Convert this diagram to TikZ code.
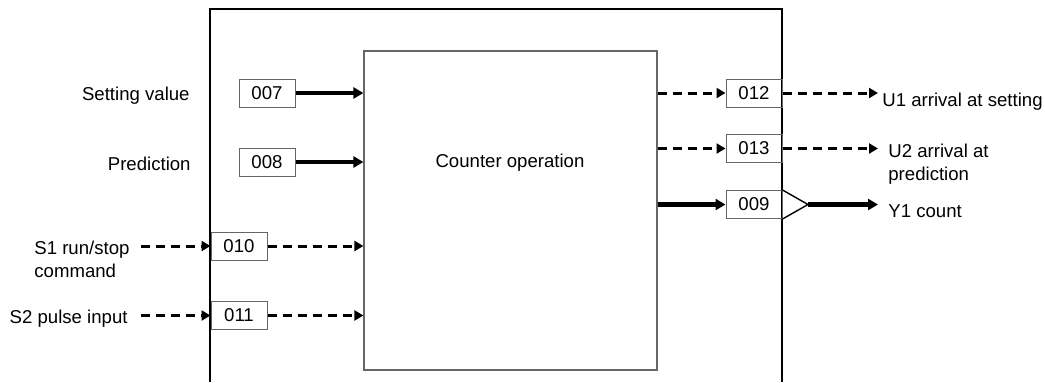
\documentclass[tikz,border=0pt]{standalone}
\usepackage{fontspec}
\setmainfont{Liberation Sans}
\usetikzlibrary{arrows.meta,positioning}

\begin{document}
\begin{tikzpicture}[x=0.5pt, y=-0.5pt, font=\fontsize{9.3}{11.4}\selectfont,
 port/.style={draw=black!60, line width=.5pt, minimum width=28pt, minimum height=14pt, inner sep=0pt},
 block/.style={draw=black!60, line width=.6pt, inner sep=0pt},
 lbl/.style={inner sep=0pt, align=left},
 dline/.style={-{Triangle[length=4.5pt,width=5pt]}, line width=1.5pt, dash pattern=on 4.5pt off 3pt},
 sline/.style={-{Triangle[length=5pt,width=5.5pt]}, line width=2.2pt}]
\useasboundingbox (0,0) rectangle (1045,382);
\draw[line width=1pt] (210,382) -- (210,9) -- (782,9) -- (782,382);
\node[block, minimum width=146.5pt, minimum height=159.5pt] (ctr) at (510.5,210.5) {};
\node (ctrtxt) at (510,163) {Counter operation};
% ports
\node[port] (p007) at (267,93) {007};
\node[port] (p008) at (267,162) {008};
\node[port] (p010) at (239,246) {010};
\node[port] (p011) at (239,315.5) {011};
\node[port] (p012) at (754,93) {012};
\node[port] (p013) at (754,148.5) {013};
\node[port] (p009) at (754,204.5) {009};
\draw[line width=.7pt] (p009.north east) -- (808,204.5) coordinate (amp) -- (p009.south east);
% labels
\node[lbl, anchor=base east] (lset) at (190,100) {Setting value};
\node[lbl, anchor=base east] (lpre) at (191,170) {Prediction};
\node[lbl, anchor=base west] (ls1) at (34,277) {S1 run/stop\\command};
\node[lbl, anchor=base east] (ls2) at (128,323) {S2 pulse input};
\node[lbl, anchor=base west] (lu1) at (882,106) {U1 arrival at setting};
\node[lbl, anchor=base west] (lu2) at (888,180) {U2 arrival at\\prediction};
\node[lbl, anchor=base west] (ly1) at (888,217) {Y1 count};
\coordinate (s1in) at (141,246);
\coordinate (s2in) at (141,315.5);
\coordinate (u1out) at (878,93);
\coordinate (u2out) at (878,148.5);
\coordinate (y1out) at (878,204.5);
% connectors
\draw[sline] (p007.east) -- (p007 -| ctr.west);
\draw[sline] (p008.east) -- (p008 -| ctr.west);
\draw[dline] (s1in) -- (p010.west);
\draw[dline] (s2in) -- (p011.west);
\draw[dline] (p010.east) -- (p010 -| ctr.west);
\draw[dline] (p011.east) -- (p011 -| ctr.west);
\draw[dline] (ctr.east |- p012) -- (p012.west);
\draw[dline] (ctr.east |- p013) -- (p013.west);
\draw[sline] (ctr.east |- p009) -- (p009.west);
\draw[dline] (p012.east) -- (u1out);
\draw[dline] (p013.east) -- (u2out);
\draw[sline] (amp) -- (y1out);
\end{tikzpicture}
\end{document}
